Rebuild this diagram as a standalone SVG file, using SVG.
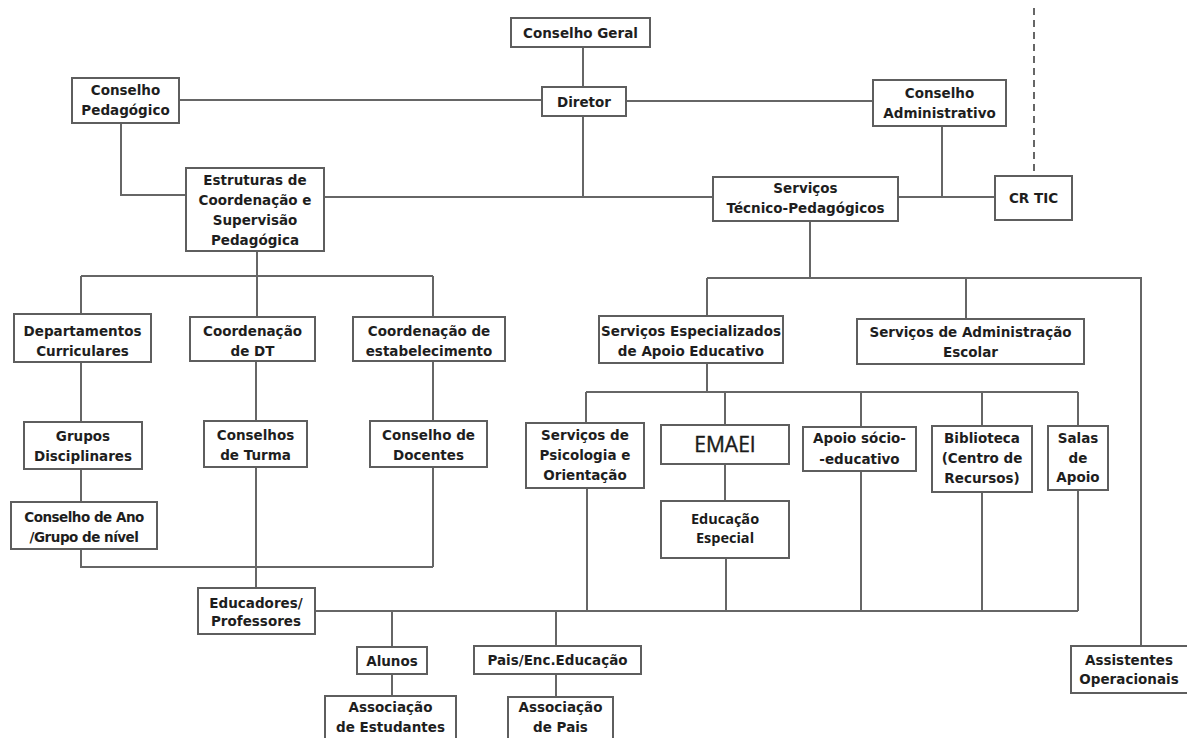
<svg xmlns="http://www.w3.org/2000/svg" width="1187" height="738" viewBox="0 0 1187 738">
<style>
.box{fill:#fff;stroke:#5e5e5e;stroke-width:2}
.t{font-family:"DejaVu Sans","Liberation Sans",sans-serif;font-weight:bold;font-size:13.5px;fill:#1e1e1e;text-anchor:middle}
.c{font-family:"Open Sans","Noto Sans",sans-serif;fill:#1a1a1a;text-anchor:middle}
.ln{fill:none;stroke:#666;stroke-width:2}
</style>
<rect width="1187" height="738" fill="#fff"/>
<g id="connectors">
<path class="ln" d="M583 47V87 M179 100H542 M626 101H873 M583 116V197 M324 197H713 M121 123V195H186 M942 126V197 M898 197H995"/>
<path class="ln" d="M1034 8V176" stroke-dasharray="7 5"/>
<path class="ln" d="M257 251V276 M81 276H433 M81 276V314 M257 276V317 M433 276V317 M81 362V422 M81 469V502 M256 361V421 M256 467V588 M433 361V421 M433 467V567 M81 549V567H433"/>
<path class="ln" d="M810 221V278 M707 278H1141V646 M707 278V316 M966 278V319 M707 363V392 M586 392H1078 M586 392V423 M725 392V425 M861 392V427 M982 392V426 M1078 392V426 M725 464V501"/>
<path class="ln" d="M587 488V611 M726 558V611 M861 471V611 M982 492V611 M1078 490V611 M315 611H1078 M392 611V647 M392 674V696 M556 611V646 M556 674V697"/>
</g>
<g id="conselho-geral"><rect class="box" x="511" y="18" width="139" height="29"/><text class="t" x="580.5" y="37.5">Conselho Geral</text></g>
<g id="diretor"><rect class="box" x="542" y="87" width="84" height="29"/><text class="t" x="584" y="106.5">Diretor</text></g>
<g id="conselho-pedagogico"><rect class="box" x="72" y="78" width="107" height="45"/><text class="t" x="125.5" y="95">Conselho</text><text class="t" x="125.5" y="115">Pedagógico</text></g>
<g id="conselho-administrativo"><rect class="box" x="873" y="80" width="133" height="46"/><text class="t" x="939.5" y="98">Conselho</text><text class="t" x="939.5" y="118">Administrativo</text></g>
<g id="estruturas"><rect class="box" x="186" y="168" width="138" height="83"/><text class="t" x="255" y="185">Estruturas de</text><text class="t" x="255" y="205">Coordenação e</text><text class="t" x="255" y="225">Supervisão</text><text class="t" x="255" y="245">Pedagógica</text></g>
<g id="servicos-tecnico"><rect class="box" x="713" y="177" width="185" height="44"/><text class="t" x="805.5" y="193">Serviços</text><text class="t" x="805.5" y="213">Técnico-Pedagógicos</text></g>
<g id="cr-tic"><rect class="box" x="995" y="176" width="77" height="44"/><text class="t" x="1033.5" y="203">CR TIC</text></g>
<g id="departamentos"><rect class="box" x="14" y="314" width="137" height="48"/><text class="t" x="82.5" y="336">Departamentos</text><text class="t" x="82.5" y="356">Curriculares</text></g>
<g id="coordenacao-dt"><rect class="box" x="190" y="317" width="125" height="44"/><text class="t" x="252.5" y="336">Coordenação</text><text class="t" x="252.5" y="356">de DT</text></g>
<g id="coordenacao-estab"><rect class="box" x="353" y="317" width="152" height="44"/><text class="t" x="429" y="336">Coordenação de</text><text class="t" x="429" y="356">estabelecimento</text></g>
<g id="servicos-especializados"><rect class="box" x="599" y="316" width="184" height="47"/><text class="t" x="691" y="336">Serviços Especializados</text><text class="t" x="691" y="356">de Apoio Educativo</text></g>
<g id="servicos-administracao"><rect class="box" x="857" y="319" width="227" height="45"/><text class="t" x="970.5" y="337">Serviços de Administração</text><text class="t" x="970.5" y="357">Escolar</text></g>
<g id="grupos"><rect class="box" x="24" y="422" width="118" height="47"/><text class="t" x="83" y="441">Grupos</text><text class="t" x="83" y="461">Disciplinares</text></g>
<g id="conselhos-turma"><rect class="box" x="204" y="421" width="103" height="46"/><text class="t" x="255.5" y="440">Conselhos</text><text class="t" x="255.5" y="460">de Turma</text></g>
<g id="conselho-docentes"><rect class="box" x="370" y="421" width="117" height="46"/><text class="t" x="428.5" y="440">Conselho de</text><text class="t" x="428.5" y="460">Docentes</text></g>
<g id="psicologia"><rect class="box" x="526" y="423" width="118" height="65"/><text class="t" x="585" y="440">Serviços de</text><text class="t" x="585" y="460">Psicologia e</text><text class="t" x="585" y="480">Orientação</text></g>
<g id="emaei"><rect class="box" x="661" y="425" width="128" height="39"/><text class="c" x="725" y="452" font-size="21" stroke="#1a1a1a" stroke-width="0.4">EMAEI</text></g>
<g id="apoio-socio"><rect class="box" x="803" y="427" width="113" height="44"/><text class="t" x="859.5" y="443">Apoio sócio-</text><text class="t" x="859.5" y="464">-educativo</text></g>
<g id="biblioteca"><rect class="box" x="932" y="426" width="100" height="66"/><text class="t" x="982" y="443">Biblioteca</text><text class="t" x="982" y="463">(Centro de</text><text class="t" x="982" y="483">Recursos)</text></g>
<g id="salas-apoio"><rect class="box" x="1048" y="426" width="60" height="64"/><text class="t" x="1078" y="443">Salas</text><text class="t" x="1078" y="463">de</text><text class="t" x="1078" y="482">Apoio</text></g>
<g id="educacao-especial"><rect class="box" x="661" y="501" width="128" height="57"/><text class="c" x="725" y="524" font-size="14.5" font-weight="bold">Educação</text><text class="c" x="725" y="543" font-size="14.5" font-weight="bold">Especial</text></g>
<g id="conselho-ano"><rect class="box" x="11" y="502" width="146" height="47"/><text class="t" x="84" y="522" letter-spacing="-0.5">Conselho de Ano</text><text class="t" x="84" y="542" letter-spacing="-0.5">/Grupo de nível</text></g>
<g id="educadores"><rect class="box" x="198" y="588" width="117" height="46"/><text class="t" x="256" y="608">Educadores/</text><text class="t" x="256" y="626">Professores</text></g>
<g id="alunos"><rect class="box" x="357" y="647" width="70" height="27"/><text class="t" x="392" y="665.5">Alunos</text></g>
<g id="pais-enc"><rect class="box" x="474" y="646" width="167" height="28"/><text class="t" x="557.5" y="665">Pais/Enc.Educação</text></g>
<g id="assoc-estudantes"><rect class="box" x="325" y="696" width="131" height="52"/><text class="t" x="390.5" y="712">Associação</text><text class="t" x="390.5" y="732">de Estudantes</text></g>
<g id="assoc-pais"><rect class="box" x="508" y="697" width="105" height="52"/><text class="t" x="560.5" y="712">Associação</text><text class="t" x="560.5" y="732">de Pais</text></g>
<g id="assistentes"><rect class="box" x="1071" y="646" width="130" height="47"/><text class="t" x="1129" y="665">Assistentes</text><text class="t" x="1129" y="684">Operacionais</text></g>
</svg>
